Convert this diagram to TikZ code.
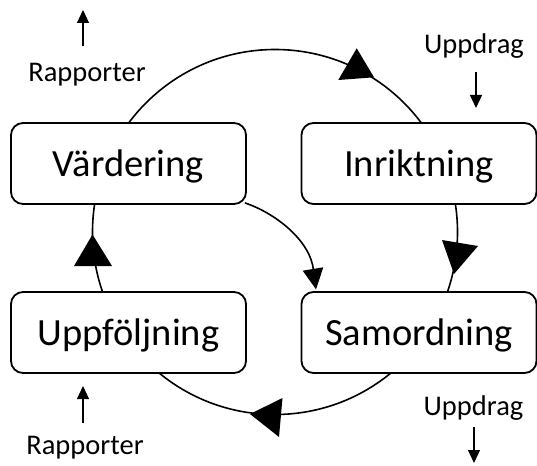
\documentclass[tikz,border=0pt]{standalone}
\usepackage{fontspec}
\setmainfont{Carlito}
\usetikzlibrary{arrows.meta}
\begin{document}
\begin{tikzpicture}[x=1pt,y=-1pt,
  box/.style={draw=black, line width=1.8pt, rounded corners=12pt, fill=white,
    minimum width=235pt, minimum height=81pt, inner sep=0pt,
    font=\fontsize{38.5}{40}\selectfont, text height=26pt, text depth=0pt},
  lbl/.style={font=\fontsize{28.5}{30}\selectfont, anchor=base, inner sep=0pt},
  cyc/.style={line width=1.6pt},
  head/.style={fill=black},
  io/.style={line width=1.2pt, -{Triangle[length=13pt,width=12pt]}}]
\useasboundingbox (0,0) rectangle (537,465);
% cycle
\draw[cyc] (275,232) circle[radius=182.5pt];
% boxes
\node[box] (vard) at (128.5,163.5) {Värdering};
\node[box] (inri) at (419,163.5) {Inriktning};
\node[box] (uppf) at (128.5,332.5) {Uppföljning};
\node[box] (samo) at (419,332.5) {Samordning};
% arrowheads on the cycle
\fill[head] (338.3,80) -- (356.7,48.3) -- (374,77.3) -- cycle;
\fill[head] (442,240) -- (478,246) -- (454,274) -- cycle;
\fill[head] (282.5,398) -- (250,414) -- (279,437) -- cycle;
\fill[head] (74,266) -- (92.5,234.5) -- (112,266) -- cycle;
% inner arrow
\coordinate (innerend) at (313.5,270);
\draw[cyc] (vard.south east) ++(-2,-2) .. controls (275,213) and (310,240) .. (innerend);
\fill[head] (302.7,270.7) -- (323.3,267.3) -- (316,289.3) -- cycle;
% labels
\node[lbl] (rap1) at (87,82) {Rapporter};
\node[lbl] (upp1) at (474,54) {Uppdrag};
\node[lbl] (upp2) at (473.5,415) {Uppdrag};
\node[lbl] (rap2) at (85,454) {Rapporter};
% input/output arrows
\coordinate (a1s) at (83,46); \coordinate (a1e) at (83,10);
\coordinate (a2s) at (476,72); \coordinate (a2e) at (476,108);
\coordinate (a3s) at (83,423); \coordinate (a3e) at (83,386);
\coordinate (a4s) at (474,427); \coordinate (a4e) at (474,463);
\draw[io] (a1s) -- (a1e);
\draw[io] (a2s) -- (a2e);
\draw[io] (a3s) -- (a3e);
\draw[io] (a4s) -- (a4e);
\end{tikzpicture}
\end{document}
